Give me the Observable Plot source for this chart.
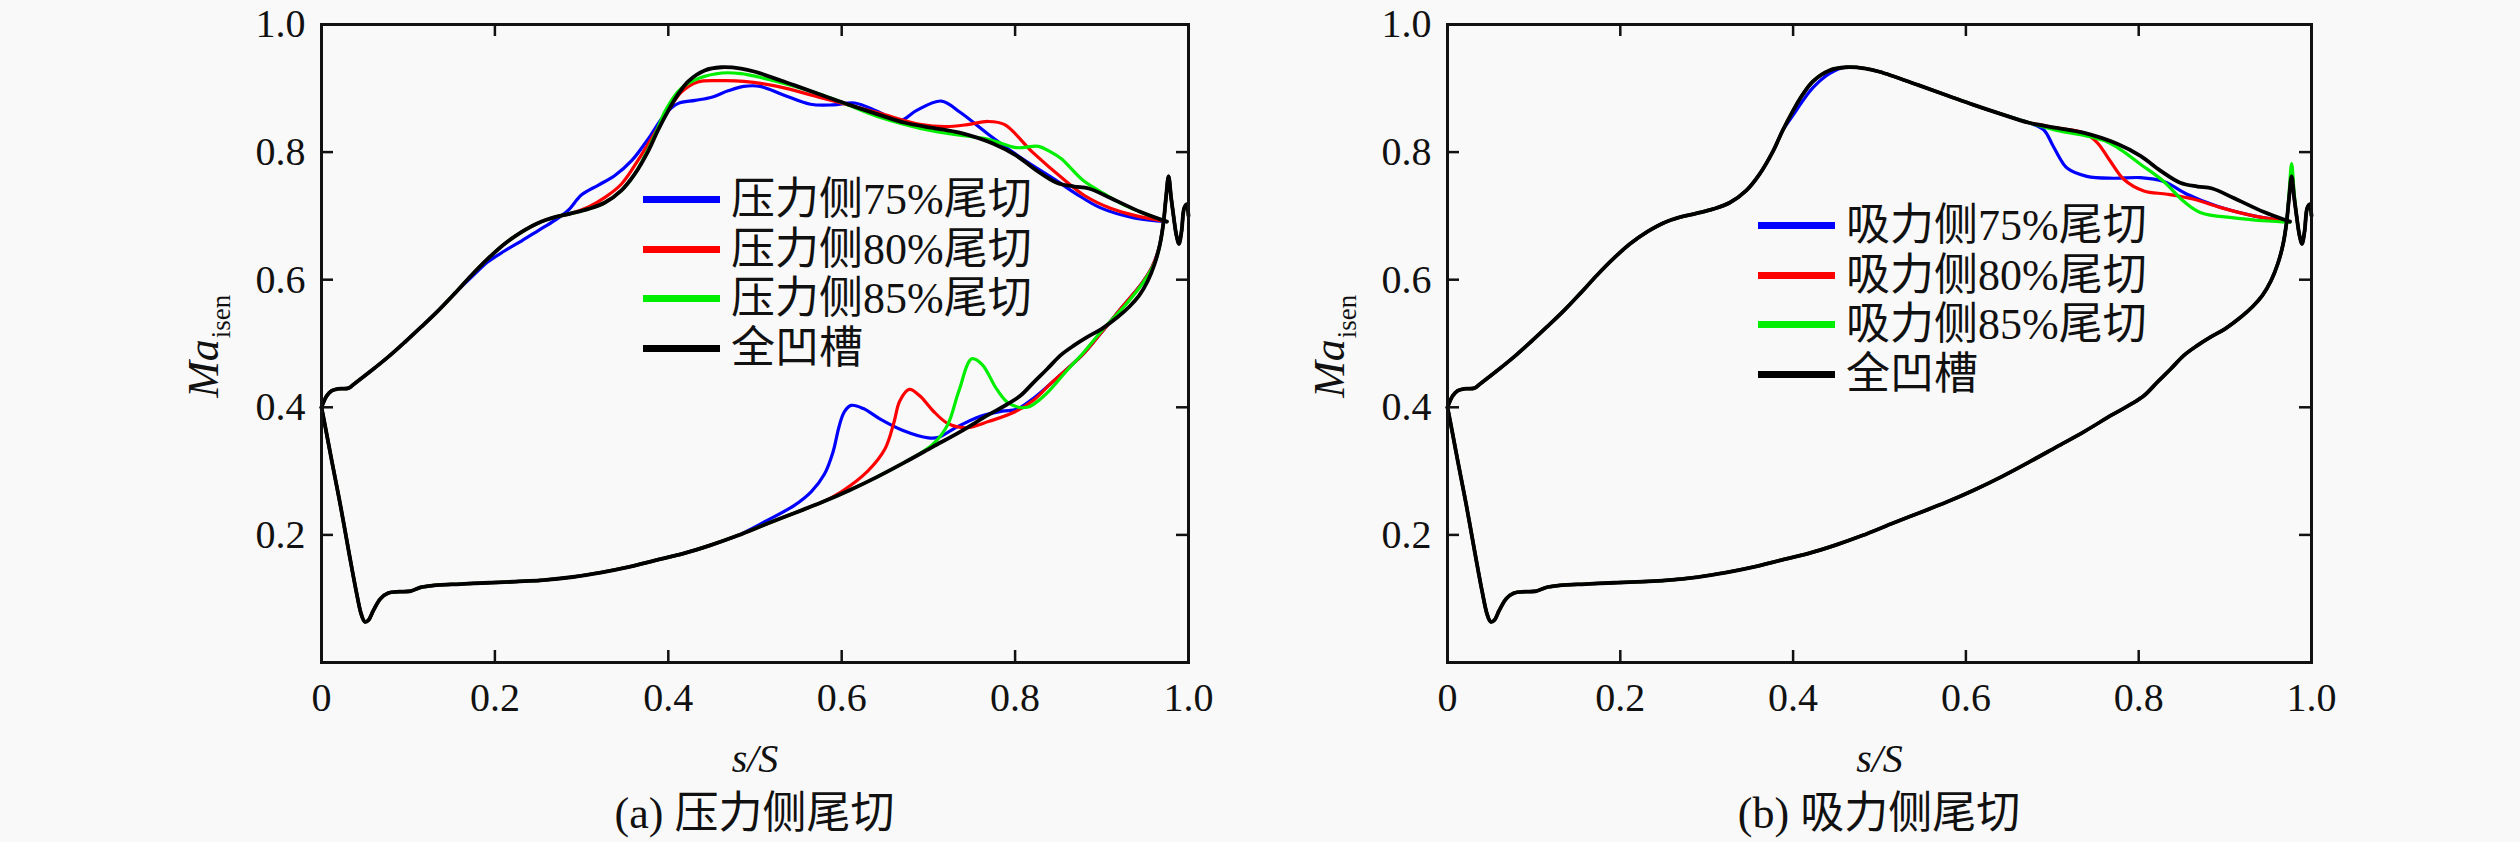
<!DOCTYPE html>
<html><head><meta charset="utf-8">
<script src="https://cdn.jsdelivr.net/npm/d3@7"></script>
<script src="https://cdn.jsdelivr.net/npm/@observablehq/plot@0.6"></script>
<style>
html,body{margin:0;padding:0;background:#f9f9f9;}
#root{position:relative;width:2520px;height:842px;overflow:hidden;font-family:"Liberation Serif","Noto Sans CJK SC",serif;color:#111;}
.panel{position:absolute;top:0;width:1260px;height:842px;}
.legend{position:absolute;}
.row{display:flex;align-items:center;height:49.5px;}
.sw{width:77px;height:7px;margin-right:11px;flex:none;}
.lt{font-size:44px;line-height:49.5px;white-space:nowrap;}
.cap{position:absolute;text-align:center;font-size:44px;line-height:44px;white-space:nowrap;}
</style></head>
<body><div id="root"></div>
<script>
// ---------------- data (s/S, Ma_isen) ----------------
const xTicks = [0, 0.2, 0.4, 0.6, 0.8, 1.0];
const yTicks = [0.2, 0.4, 0.6, 0.8, 1.0];
const innerTicks = [0.2, 0.4, 0.6, 0.8];

// 全凹槽 (baseline, same in both panels)
const blackUpper = [[0.000,0.400],[0.006,0.418],[0.012,0.426],[0.019,0.429],[0.031,0.430],[0.038,0.437],[0.058,0.458],[0.077,0.479],[0.096,0.502],[0.115,0.526],[0.135,0.552],[0.154,0.579],[0.173,0.607],[0.192,0.633],[0.211,0.656],[0.231,0.675],[0.250,0.689],[0.269,0.698],[0.288,0.704],[0.308,0.711],[0.327,0.721],[0.346,0.740],[0.361,0.765],[0.377,0.802],[0.388,0.834],[0.400,0.865],[0.411,0.890],[0.423,0.911],[0.442,0.928],[0.461,0.933],[0.484,0.931],[0.500,0.926],[0.545,0.905],[0.580,0.888],[0.609,0.874],[0.640,0.860],[0.673,0.846],[0.705,0.838],[0.737,0.830],[0.775,0.813],[0.802,0.794],[0.825,0.771],[0.848,0.752],[0.868,0.746],[0.885,0.743],[0.910,0.728],[0.945,0.706],[0.975,0.691]];
const blackLower = [[0.000,0.400],[0.005,0.365],[0.012,0.315],[0.022,0.245],[0.032,0.170],[0.040,0.112],[0.046,0.075],[0.050,0.064],[0.054,0.066],[0.060,0.082],[0.068,0.100],[0.077,0.109],[0.090,0.111],[0.103,0.112],[0.115,0.118],[0.130,0.121],[0.160,0.123],[0.193,0.125],[0.256,0.129],[0.290,0.134],[0.322,0.141],[0.355,0.150],[0.385,0.160],[0.418,0.171],[0.449,0.184],[0.480,0.199],[0.513,0.217],[0.545,0.234],[0.577,0.251],[0.609,0.270],[0.641,0.291],[0.673,0.314],[0.705,0.338],[0.737,0.362],[0.769,0.388],[0.790,0.404],[0.806,0.418],[0.822,0.440],[0.837,0.460],[0.852,0.481],[0.868,0.497],[0.883,0.510],[0.900,0.523],[0.918,0.541],[0.932,0.558],[0.943,0.575],[0.953,0.598],[0.961,0.625],[0.967,0.655],[0.971,0.688],[0.974,0.728],[0.977,0.762],[0.980,0.728],[0.983,0.697],[0.986,0.670],[0.989,0.656],[0.992,0.676],[0.995,0.712],[0.998,0.718],[1.000,0.700]];

// (a) pressure-side cuts: deviating parts
const aBlueUpperDev = [[0.173,0.604],[0.192,0.628],[0.211,0.645],[0.231,0.661],[0.250,0.677],[0.269,0.693],[0.284,0.708],[0.300,0.733],[0.319,0.748],[0.338,0.763],[0.358,0.787],[0.377,0.821],[0.396,0.859],[0.411,0.876],[0.431,0.881],[0.450,0.886],[0.469,0.896],[0.487,0.903],[0.506,0.903],[0.532,0.890],[0.564,0.875],[0.590,0.874],[0.615,0.877],[0.641,0.864],[0.667,0.849],[0.686,0.865],[0.715,0.880],[0.737,0.862],[0.769,0.828],[0.808,0.790],[0.846,0.757],[0.870,0.735],[0.898,0.713],[0.937,0.697],[0.975,0.691]];
const aRedUpperDev = [[0.308,0.714],[0.327,0.729],[0.346,0.750],[0.365,0.787],[0.384,0.829],[0.400,0.865],[0.415,0.894],[0.434,0.910],[0.461,0.912],[0.487,0.911],[0.526,0.903],[0.577,0.885],[0.641,0.862],[0.692,0.843],[0.720,0.840],[0.745,0.843],[0.769,0.848],[0.788,0.843],[0.820,0.800],[0.859,0.754],[0.880,0.732],[0.910,0.712],[0.940,0.700],[0.975,0.691]];
const aGreenUpperDev = [[0.377,0.805],[0.388,0.838],[0.397,0.866],[0.415,0.900],[0.436,0.916],[0.462,0.924],[0.484,0.923],[0.500,0.919],[0.577,0.890],[0.641,0.856],[0.705,0.833],[0.769,0.820],[0.801,0.807],[0.827,0.809],[0.840,0.801],[0.853,0.790],[0.879,0.755],[0.905,0.733],[0.929,0.715],[0.975,0.691]];
const aBlueLowerDev = [[0.513,0.222],[0.545,0.246],[0.565,0.268],[0.580,0.295],[0.590,0.330],[0.597,0.370],[0.603,0.393],[0.611,0.403],[0.625,0.398],[0.645,0.381],[0.670,0.364],[0.700,0.352],[0.712,0.353],[0.730,0.367],[0.760,0.386],[0.785,0.394],[0.802,0.397],[0.822,0.415],[0.841,0.437],[0.860,0.460],[0.879,0.484],[0.900,0.518],[0.922,0.555],[0.945,0.592],[0.958,0.620],[0.966,0.650]];
const aRedLowerDev = [[0.600,0.268],[0.630,0.300],[0.650,0.335],[0.660,0.375],[0.667,0.410],[0.678,0.428],[0.690,0.418],[0.705,0.395],[0.722,0.375],[0.744,0.368],[0.770,0.378],[0.800,0.393],[0.822,0.412],[0.841,0.437],[0.860,0.460],[0.879,0.484],[0.900,0.518],[0.922,0.555],[0.945,0.592],[0.958,0.620],[0.966,0.650]];
const aGreenLowerDev = [[0.705,0.342],[0.722,0.372],[0.735,0.425],[0.750,0.476],[0.762,0.467],[0.779,0.428],[0.793,0.406],[0.814,0.400],[0.835,0.420],[0.860,0.458],[0.879,0.486],[0.900,0.520],[0.929,0.563],[0.950,0.600],[0.962,0.630],[0.967,0.655]];

// (b) suction-side cuts: deviating parts
const bBlueUpperPeak = [[0.400,0.858],[0.411,0.880],[0.423,0.901],[0.442,0.923]];
const bBlueUpperDev = [[0.690,0.835],[0.700,0.812],[0.708,0.792],[0.717,0.775],[0.740,0.762],[0.771,0.759],[0.802,0.760],[0.829,0.754],[0.856,0.734],[0.891,0.715],[0.933,0.700],[0.975,0.691]];
const bRedUpperDev = [[0.752,0.815],[0.767,0.786],[0.783,0.757],[0.806,0.739],[0.833,0.734],[0.864,0.726],[0.895,0.713],[0.933,0.700],[0.975,0.691]];
const bGreenUpperDev = [[0.705,0.834],[0.737,0.826],[0.760,0.818],[0.779,0.804],[0.802,0.781],[0.829,0.754],[0.852,0.723],[0.872,0.705],[0.910,0.697],[0.949,0.692],[0.975,0.690]];
const bGreenLowerTE = [[0.974,0.735],[0.977,0.782],[0.980,0.735],[0.983,0.697],[0.986,0.670],[0.989,0.656],[0.992,0.676],[0.995,0.712],[0.998,0.718],[1.000,0.700]];

const namesA = ["压力侧75%尾切", "压力侧80%尾切", "压力侧85%尾切", "全凹槽"];
const namesB = ["吸力侧75%尾切", "吸力侧80%尾切", "吸力侧85%尾切", "全凹槽"];
const colors = ["#0000ff", "#ff0000", "#00ee00", "#000000"];
const captions = ["(a) 压力侧尾切", "(b) 吸力侧尾切"];

// ---------------- assemble series ----------------
const seg = (arr, x0, x1) => arr.filter(p => p[0] >= x0 && p[0] < x1);
const tail = seg(blackLower, 0.969, 1.01);
const seriesA = [
  {upper: [...seg(blackUpper, 0, 0.165), ...aBlueUpperDev], lower: [...seg(blackLower, 0, 0.49), ...aBlueLowerDev, ...tail]},
  {upper: [...seg(blackUpper, 0, 0.29), ...aRedUpperDev], lower: [...seg(blackLower, 0, 0.59), ...aRedLowerDev, ...tail]},
  {upper: [...seg(blackUpper, 0, 0.37), ...aGreenUpperDev], lower: [...seg(blackLower, 0, 0.69), ...aGreenLowerDev, ...tail]},
  {upper: blackUpper, lower: blackLower}
];
const seriesB = [
  {upper: [...seg(blackUpper, 0, 0.395), ...bBlueUpperPeak, ...seg(blackUpper, 0.45, 0.68), ...bBlueUpperDev], lower: blackLower},
  {upper: [...seg(blackUpper, 0, 0.745), ...bRedUpperDev], lower: blackLower},
  {upper: [...seg(blackUpper, 0, 0.70), ...bGreenUpperDev], lower: [...seg(blackLower, 0, 0.972), ...bGreenLowerTE]},
  {upper: blackUpper, lower: blackLower}
];

// ---------------- drawing ----------------
const fmt = d => d === 0 ? "0" : d.toFixed(1);
const root = document.getElementById("root");

function makePanel(series, names, caption, left, mL, mR, legendLeft, legendTop) {
  const W = 1260, H = 790, mT = 24, mB = 128;
  const pw = W - mL - mR, ph = H - mT - mB;
  const marks = [];
  series.forEach((s, i) => {
    const sw = i === 3 ? 3.8 : 3.2;
    for (const br of [s.upper, s.lower]) {
      marks.push(Plot.line(br, {x: d => d[0], y: d => d[1], stroke: colors[i], strokeWidth: sw, curve: "catmull-rom", strokeLinejoin: "round"}));
    }
  });
  marks.push(
    Plot.frame({stroke: "#111", strokeWidth: 3}),
    Plot.ruleX(innerTicks, {x: d => d, insetTop: ph - 12, stroke: "#111", strokeWidth: 2.5}),
    Plot.ruleX(innerTicks, {x: d => d, insetBottom: ph - 12, stroke: "#111", strokeWidth: 2.5}),
    Plot.ruleY(innerTicks, {y: d => d, insetRight: pw - 12, stroke: "#111", strokeWidth: 2.5}),
    Plot.ruleY(innerTicks, {y: d => d, insetLeft: pw - 12, stroke: "#111", strokeWidth: 2.5}),
    Plot.axisX(xTicks, {tickSize: 0, tickPadding: 20, tickFormat: fmt, fontSize: 40, label: null}),
    Plot.axisY(yTicks, {tickSize: 0, tickPadding: 16, tickFormat: fmt, fontSize: 40, label: null}),
    Plot.text(["Ma"], {text: d => d, frameAnchor: "left", textAnchor: "middle", lineAnchor: "middle", rotate: -90, dx: -118, dy: 25, fontSize: 44, fontStyle: "italic"}),
    Plot.text(["isen"], {text: d => d, frameAnchor: "left", textAnchor: "middle", lineAnchor: "middle", rotate: -90, dx: -100, dy: -27, fontSize: 27}),
    Plot.text(["s/S"], {text: d => d, frameAnchor: "bottom", textAnchor: "middle", lineAnchor: "middle", dy: 97, fontSize: 40, fontStyle: "italic"})
  );
  const svg = Plot.plot({
    width: W, height: H, marginLeft: mL, marginRight: mR, marginTop: mT, marginBottom: mB,
    x: {domain: [0, 1]}, y: {domain: [0, 1]},
    style: {background: "transparent", fontFamily: "Liberation Serif", fontSize: "40px", color: "#111", overflow: "visible"},
    marks
  });
  const div = document.createElement("div");
  div.className = "panel";
  div.style.left = left + "px";
  div.appendChild(svg);
  // legend
  const lg = document.createElement("div");
  lg.className = "legend";
  lg.style.left = (legendLeft - left) + "px";
  lg.style.top = legendTop + "px";
  names.forEach((n, i) => {
    const r = document.createElement("div"); r.className = "row";
    const s = document.createElement("div"); s.className = "sw"; s.style.background = colors[i];
    const t = document.createElement("div"); t.className = "lt"; t.textContent = n;
    r.appendChild(s); r.appendChild(t); lg.appendChild(r);
  });
  div.appendChild(lg);
  // caption
  const cap = document.createElement("div");
  cap.className = "cap";
  cap.style.left = mL + "px"; cap.style.width = pw + "px"; cap.style.top = "792px";
  cap.textContent = caption;
  div.appendChild(cap);
  root.appendChild(div);
}

makePanel(seriesA, namesA, captions[0], 0, 321, 72, 643, 175);
makePanel(seriesB, namesB, captions[1], 1260, 187, 209, 1758, 201);
</script>
</body></html>
